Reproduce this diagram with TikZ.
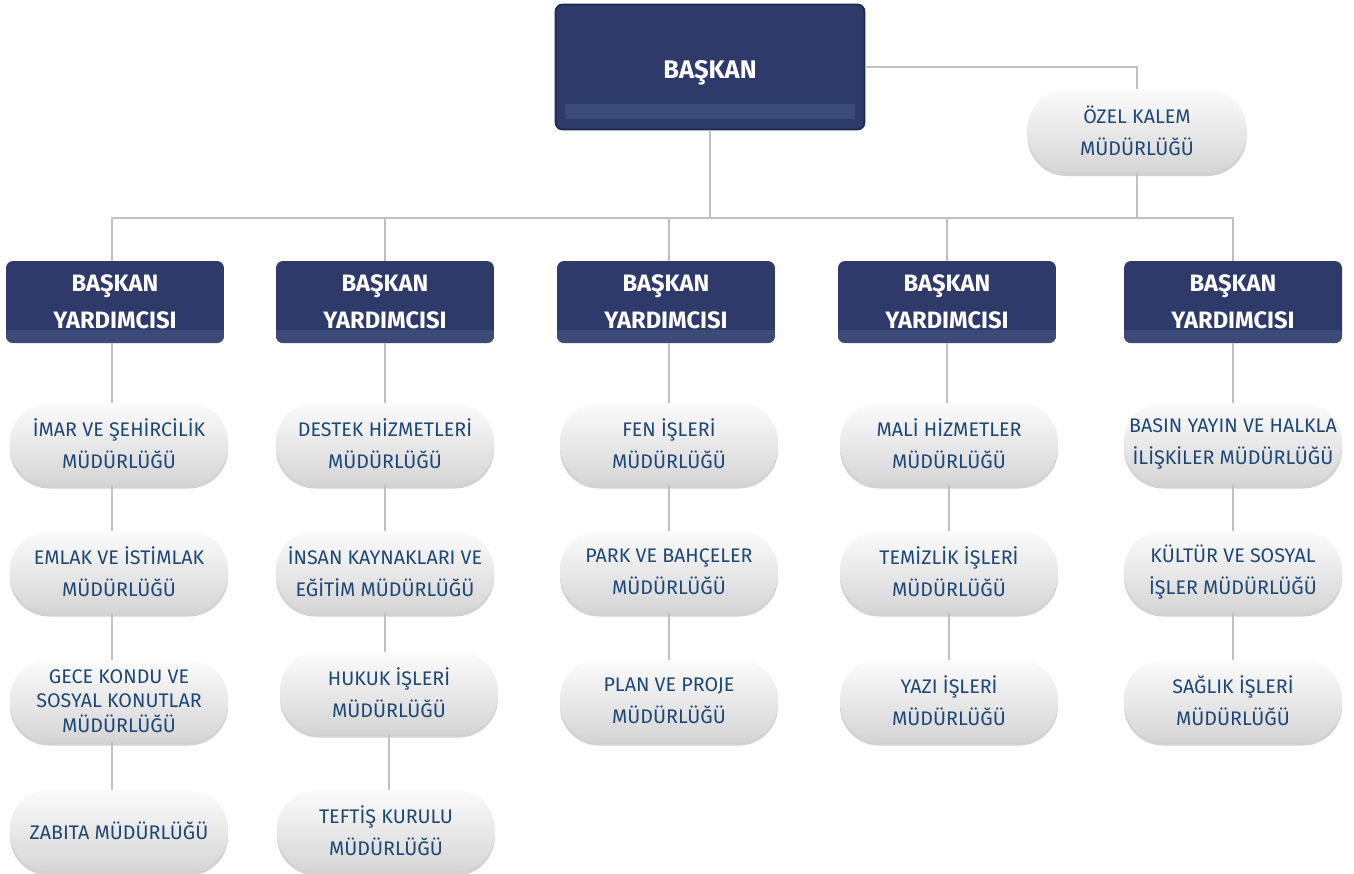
\documentclass[tikz,border=0pt]{standalone}
\usepackage{fontspec}
\setmainfont{Fira Sans}
\usepackage{tikz}
\usetikzlibrary{calc, shadows}
\usepackage{xcolor}

\definecolor{navy}{HTML}{2E3A6A}
\definecolor{navyedge}{HTML}{1E2850}
\definecolor{navystrip}{HTML}{394B76}
\definecolor{depttext}{HTML}{1D4775}
\definecolor{connline}{HTML}{BFC1C5}

\begin{document}
\begin{tikzpicture}[x=0.02cm, y=-0.02cm,
    conn/.style={draw=connline, line width=1.5pt},
    chief/.style={draw=navyedge, line width=1pt, fill=navy, rounded corners=4pt,
      minimum width=6.18cm, minimum height=2.5cm, text=white,
      text height=16pt, text depth=2.6pt,
      font=\fontsize{14.5}{16}\selectfont\bfseries,
      path picture={\fill[navystrip, sharp corners] ([xshift=0.18cm, yshift=0.2cm]path picture bounding box.south west)
        rectangle ([xshift=-0.18cm, yshift=0.5cm]path picture bounding box.south east);}},
    vice/.style={fill=navy, rounded corners=4pt,
      minimum width=4.36cm, minimum height=1.64cm, text=white, align=center,
      font=\fontsize{13.5}{21}\selectfont\bfseries,
      path picture={\fill[navystrip, sharp corners] (path picture bounding box.south west)
        rectangle ([yshift=0.26cm]path picture bounding box.south east);}},
    dept/.style={rounded corners=0.78cm, top color=gray!3, bottom color=gray!33,
      minimum width=4.36cm, minimum height=1.64cm, text=depttext, align=center,
      inner sep=1pt, font=\fontsize{11.2}{18.3}\selectfont,
      drop shadow={shadow xshift=0pt, shadow yshift=-0.07cm, fill=gray!35, opacity=1}},
    deptthree/.style={dept, font=\fontsize{11.2}{14}\selectfont}
  ]

  \useasboundingbox (0,0) rectangle (1354,873);

  % top
  \node[chief] (bsk) at (710, 67) {BAŞKAN};
  \node[dept, minimum width=4.38cm, minimum height=1.66cm] (ozel) at (1137, 131) {ÖZEL KALEM\\MÜDÜRLÜĞÜ};

  % vice presidents
  \node[vice] (vp1) at (115, 302) {BAŞKAN\\YARDIMCISI};
  \node[vice] (vp2) at (385, 302) {BAŞKAN\\YARDIMCISI};
  \node[vice] (vp3) at (666, 302) {BAŞKAN\\YARDIMCISI};
  \node[vice] (vp4) at (947, 302) {BAŞKAN\\YARDIMCISI};
  \node[vice] (vp5) at (1233, 302) {BAŞKAN\\YARDIMCISI};

  % column 1
  \node[dept] (d11) at (119, 444) {İMAR VE ŞEHİRCİLİK\\MÜDÜRLÜĞÜ};
  \node[dept] (d12) at (119, 572) {EMLAK VE İSTİMLAK\\MÜDÜRLÜĞÜ};
  \node[deptthree] (d13) at (119, 701) {GECE KONDU VE\\SOSYAL KONUTLAR\\MÜDÜRLÜĞÜ};
  \node[dept] (d14) at (119, 831) {ZABITA MÜDÜRLÜĞÜ};

  % column 2
  \node[dept] (d21) at (385, 444) {DESTEK HİZMETLERİ\\MÜDÜRLÜĞÜ};
  \node[dept] (d22) at (385, 572) {İNSAN KAYNAKLARI VE\\EĞİTİM MÜDÜRLÜĞÜ};
  \node[dept] (d23) at (389, 693) {HUKUK İŞLERİ\\MÜDÜRLÜĞÜ};
  \node[dept] (d24) at (386, 831) {TEFTİŞ KURULU\\MÜDÜRLÜĞÜ};

  % column 3
  \node[dept] (d31) at (669, 444) {FEN İŞLERİ\\MÜDÜRLÜĞÜ};
  \node[dept] (d32) at (669, 572) {PARK VE BAHÇELER\\MÜDÜRLÜĞÜ};
  \node[dept] (d33) at (669, 701) {PLAN VE PROJE\\MÜDÜRLÜĞÜ};

  % column 4
  \node[dept] (d41) at (949, 444) {MALİ HİZMETLER\\MÜDÜRLÜĞÜ};
  \node[dept] (d42) at (949, 572) {TEMİZLİK İŞLERİ\\MÜDÜRLÜĞÜ};
  \node[dept] (d43) at (949, 701) {YAZI İŞLERİ\\MÜDÜRLÜĞÜ};

  % column 5
  \node[dept] (d51) at (1233, 444) {BASIN YAYIN VE HALKLA\\İLİŞKİLER MÜDÜRLÜĞÜ};
  \node[dept] (d52) at (1233, 572) {KÜLTÜR VE SOSYAL\\İŞLER MÜDÜRLÜĞÜ};
  \node[dept] (d53) at (1233, 701) {SAĞLIK İŞLERİ\\MÜDÜRLÜĞÜ};

  \coordinate (bus) at (0, 218);

  \draw[conn] (bsk.south) -- (bsk.south |- bus);
  \draw[conn] (bsk.east) -| (ozel.north);
  \draw[conn] (ozel.south) -- (ozel.south |- bus);
  \draw[conn] ([xshift=-0.06cm]vp1.north) -- ([xshift=-0.06cm]vp1.north |- bus)
    -- (vp5.north |- bus) -- (vp5.north);
  \draw[conn] (vp2.north) -- (vp2.north |- bus);
  \draw[conn] ([xshift=0.06cm]vp3.north) -- ([xshift=0.06cm]vp3.north |- bus);
  \draw[conn] (vp4.north) -- (vp4.north |- bus);

  \draw[conn] ([xshift=-0.06cm]vp1.south) -- ([xshift=-0.06cm]vp1.south |- d11.north);
  \draw[conn] (vp2.south) -- (vp2.south |- d21.north);
  \draw[conn] ([xshift=0.06cm]vp3.south) -- ([xshift=0.06cm]vp3.south |- d31.north);
  \draw[conn] (vp4.south) -- (vp4.south |- d41.north);
  \draw[conn] (vp5.south) -- (vp5.south |- d51.north);

  \foreach \u/\v in {d11/d12, d12/d13, d13/d14}
    \draw[conn] ([xshift=-0.14cm]\u.south) -- ([xshift=-0.14cm]\u.south |- \v.north);
  \foreach \u/\v in {d21/d22, d22/d23, d23/d24, d31/d32, d32/d33,
                     d41/d42, d42/d43, d51/d52, d52/d53}
    \draw[conn] (\u.south) -- (\u.south |- \v.north);
\end{tikzpicture}
\end{document}
